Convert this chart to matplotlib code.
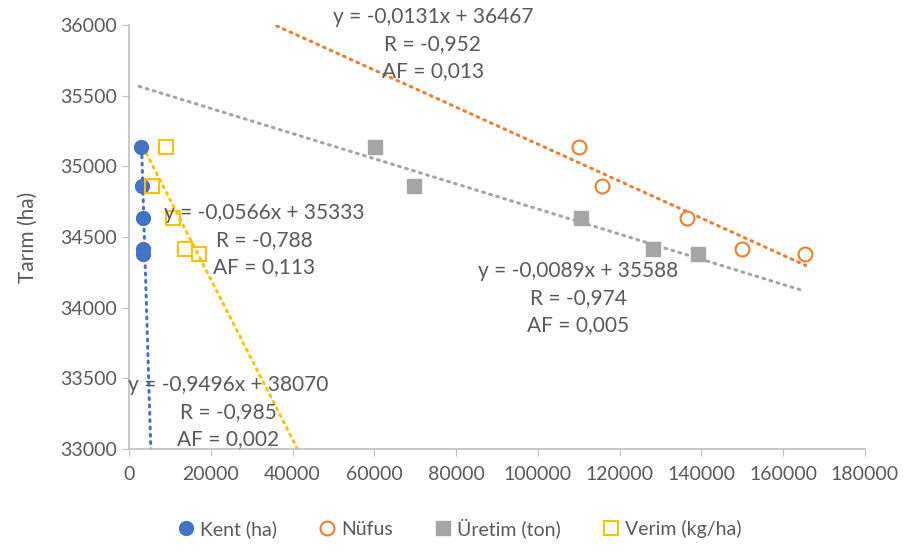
import numpy as np
import matplotlib
matplotlib.use("Agg")
import matplotlib.pyplot as plt

# Tarım (ha) on the y axis, shared by all series
tarim = [35138, 34862, 34632, 34415, 34380]

kent = [2860, 3100, 3350, 3500, 3550]
nufus = [110024, 115648, 136430, 149878, 165281]
uretim = [60147, 69682, 110513, 128117, 139120]
verim = [9046, 5550, 10685, 13692, 17115]

series_names = ["Kent (ha)", "Nüfus", "Üretim (ton)", "Verim (kg/ha)"]

# trend lines: slope, intercept, x range shown
slopes = [-0.9496, -0.0131, -0.0089, -0.0566]
intercepts = [38070, 36467, 35588, 35333]
trend_x0 = [3100, 34500, 2500, 3450]
trend_x1 = [6000, 165500, 165000, 45000]

labels = [
    "y = -0,9496x + 38070\nR = -0,985\nAF = 0,002",
    "y = -0,0131x + 36467\nR = -0,952\nAF = 0,013",
    "y = -0,0089x + 35588\nR = -0,974\nAF = 0,005",
    "y = -0,0566x + 35333\nR = -0,788\nAF = 0,113",
]
label_pos = [(24200, 33263), (74300, 35866), (109800, 34069), (33000, 34480)]

colors = ["#4472C4", "#ED7D31", "#A5A5A5", "#FFC000"]
text_color = "#595959"
plt.rcParams["font.family"] = ["Lato", "DejaVu Sans"]

fig = plt.figure(figsize=(9.07, 5.53), dpi=100)
ax = fig.add_axes([0.1422, 0.188, 0.8115, 0.7668])

ax.plot(kent, tarim, "o", color=colors[0], ms=10, label=series_names[0], zorder=3)
ax.plot(nufus, tarim, "o", mfc="white", mec=colors[1], mew=1.5, ms=10,
        label=series_names[1], zorder=3)
ax.plot(uretim, tarim, "s", color=colors[2], ms=10.5, label=series_names[2], zorder=3)
ax.plot(verim, tarim, "s", mfc="none", mec=colors[3], mew=1.5, ms=10.5,
        label=series_names[3], zorder=3)

for i in range(4):
    tx = np.linspace(trend_x0[i], trend_x1[i], 50)
    ty = slopes[i] * tx + intercepts[i]
    ax.plot(tx, ty, color=colors[i], lw=2.2, linestyle=(0, (0.6, 1.8)),
            dash_capstyle="round", zorder=2)
    ax.text(label_pos[i][0], label_pos[i][1], labels[i], ha="center", va="center",
            fontsize=15, color=text_color, linespacing=1.45, zorder=4, clip_on=False)

ax.set_xlim(0, 180000)
ax.set_ylim(33000, 36000)
ax.set_xticks(np.arange(0, 180001, 20000))
ax.set_yticks(np.arange(33000, 36001, 500))
ax.tick_params(colors="#BFBFBF", labelcolor=text_color, labelsize=14, length=5)
ax.tick_params(axis="x", pad=7)
for s in ["top", "right"]:
    ax.spines[s].set_visible(False)
for s in ["left", "bottom"]:
    ax.spines[s].set_color("#BFBFBF")
    ax.spines[s].set_linewidth(1.2)
ax.set_ylabel("Tarım (ha)", fontsize=15, color=text_color, labelpad=16)

leg = fig.legend(loc="lower center", bbox_to_anchor=(0.505, -0.005), ncol=4, frameon=False,
                 fontsize=14, handletextpad=0.1, columnspacing=2.0, handlelength=1.2)
for t in leg.get_texts():
    t.set_color(text_color)

fig.savefig("out.png", dpi=100)
